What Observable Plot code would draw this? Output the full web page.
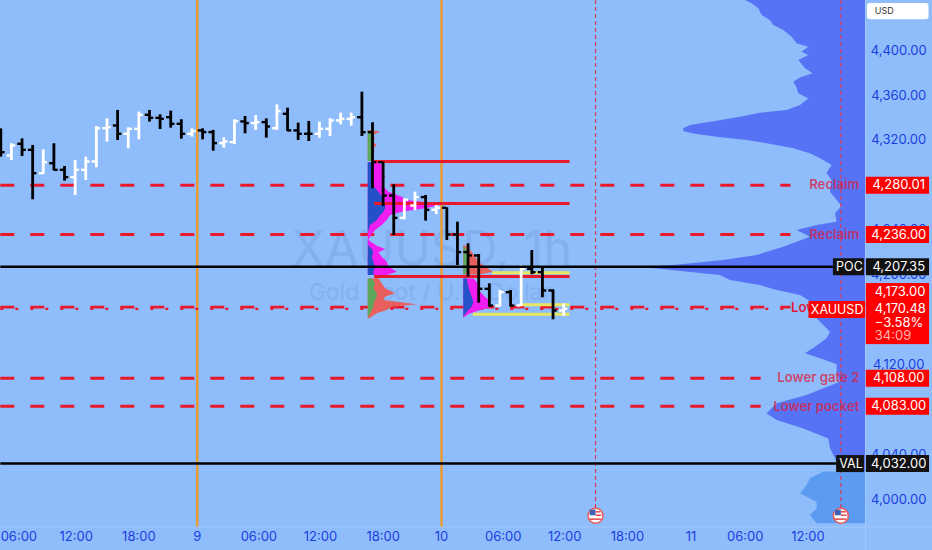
<!DOCTYPE html>
<html><head><meta charset="utf-8">
<script src="https://cdn.jsdelivr.net/npm/d3@7"></script>
<script src="https://cdn.jsdelivr.net/npm/@observablehq/plot@0.6"></script>
<style>html,body{margin:0;padding:0;background:#8fbcfb}svg{display:block}</style>
</head><body><div id="c"></div>
<script>
// OHLC, one entry per hourly bar
const opens=[4321,4306.5,4316.9,4311.5,4290.7,4299.6,4293.7,4287.2,4293.7,4301.1,4330.8,4333.2,4325.8,4330.2,4342.7,4340,4340.6,4334.7,4325.8,4328.8,4327.3,4317.5,4318.4,4336.8,4335.3,4336.2,4330.8,4343.6,4328.8,4325.8,4325.8,4330.2,4337.7,4339.1,4340.6,4327.2,4300.5,4270.8,4250.9,4261.9,4269.4,4258.1,4259.9,4236.1,4220.4,4217.4,4187.7,4172.8,4184.7,4172.8,4205.5,4202.5,4186.2,4168.4];
const highs=[4330.2,4316.9,4321.3,4315.4,4311.5,4316.9,4296.7,4302,4305,4332.3,4339.1,4346.6,4331.1,4345.1,4346.6,4342.7,4346,4338.3,4330.2,4330.2,4328.8,4322.2,4338.3,4341.2,4342.1,4339.1,4351.6,4348.6,4335.3,4336.8,4336.2,4339.1,4344.2,4344.2,4362.9,4335.6,4300.5,4280.3,4267.9,4273.8,4270.8,4261.9,4259.9,4247.1,4227.8,4218.3,4192.1,4186.2,4186.2,4208.5,4221.8,4207,4186.8,4174.3];
const lows=[4305,4302,4305.6,4267,4289.5,4293.1,4283.6,4270.8,4284.2,4295.5,4318.4,4319.8,4312.4,4320.4,4336.2,4329.6,4330.8,4321,4322.8,4320.4,4310.3,4313,4316.3,4325.8,4328.8,4321.9,4328.8,4327.9,4319.8,4318.9,4321.9,4323.4,4333.8,4332.6,4323.4,4276.8,4261,4235.2,4249.2,4257.5,4248,4253.9,4230.7,4208.5,4198.1,4174.9,4171.4,4171.4,4171.4,4171.9,4200.2,4179.7,4160.1,4163];
const closes=[4309.4,4315.4,4311.5,4290.7,4300.5,4293.7,4287.2,4293.7,4301.1,4330.8,4331.7,4325.8,4330.2,4342.7,4340,4339.1,4334.7,4325.8,4328.2,4327.3,4317.5,4318.9,4337.1,4335.3,4336.2,4332.3,4346,4328.8,4325.8,4325.8,4330.2,4337.7,4339.1,4340.6,4327.2,4300.5,4270.8,4250.9,4267,4269.4,4258.1,4259.9,4236.1,4220.4,4217.4,4187.7,4172.8,4184.7,4172.8,4205.5,4202.5,4186.2,4168.4,4169.9];
const upBars=[1,4,7,8,9,10,12,13,18,21,22,24,26,30,31,32,33,38,39,41,47,49,53];

// session profile 1
const p1TopPrice=[4328.7,4327.3,4324.3,4321.3,4318.4,4315.4,4312.4,4309.4,4305,4301.1];
const p1TopInner=[2,10,11,12,12,12,12,12,12,12];
const p1TopOuter=[7,37,15,22,15,27,18,20,12,22];
const p1MidPrice=[4299.9,4297.6,4294.6,4290.1,4287.2,4282.7,4278.3,4273.8,4269.3,4266.4,4262.5,4259,4256,4253,4248.6,4244.1,4239.6,4235.2,4230.7,4225.7,4222.7,4219.7,4215.9,4211.4,4207,4202.5,4199.6];
const p1MidInner=[17,17,12,12,12,12,17,32,42,47,52,52,47,37,27,7,2,0,0,2,12,17,12,17,22,17,17];
const p1MidOuter=[30,42,47,42,52,42,47,62,102,117,225,172,102,67,57,42,22,10,2,27,52,32,42,57,62,87,57];
const p1LowPrice=[4196.6,4192.1,4187.7,4183.2,4180.2,4177.3,4173.4,4171.3,4168.4,4165.4,4161];
const p1LowInner=[12,22,17,27,27,22,17,17,12,7,0];
const p1LowOuter=[32,42,52,82,52,47,147,72,57,27,4];
// session profile 2
const p2TopPrice=[4226.2,4224.8,4220.3,4215.9,4211.4,4206.9,4202.5,4200.1];
const p2TopInner=[0,2,15,15,12,12,10,5];
const p2TopOuter=[2,12,25,35,45,65,90,50];
const p2LowPrice=[4196.5,4193.6,4189.1,4184.7,4180.2,4175.8,4171.3,4168.3,4164.8,4161.8];
const p2LowInner=[10,12,15,20,25,30,25,15,5,0];
const p2LowOuter=[30,40,45,50,65,80,85,50,15,2];

// visible-range profile on the right
const vpPrice=[4444.5,4441.6,4437.1,4431.2,4426.7,4422.3,4417.8,4411.9,4405.9,4403,4398.5,4395.5,4391.1,4383.7,4379.2,4375.6,4371.8,4366.7,4361.4,4356.9,4351,4346.5,4344.2,4340.6,4337,4333.2,4330.2,4327.8,4325.7,4322.8,4319.8,4316.9,4312.4,4308,4303.5,4297.5,4293.1,4290.1,4284.2,4273.8,4266.4,4261,4254.5,4247.1,4244.1,4239.6,4233.7,4224.8,4217.4,4212.9,4208.5,4207,4199.6,4195.1,4190.6,4186.2,4181.7,4177.3,4169.9,4161,4155,4149.1,4143.1,4135.7,4129.8,4125.3,4120,4113.4,4104.5,4098.6,4092.6,4085.2,4076.3,4070.4,4062.9,4054,4045.1,4033.3,4024.4];
const vpVol=[360,340,320,310,285,275,245,220,205,170,190,170,200,180,157,195,215,205,200,170,195,235,315,375,445,525,545,545,515,445,355,295,215,165,135,100,110,115,100,105,85,70,90,85,145,205,165,245,325,425,575,675,435,405,315,265,195,170,155,145,125,105,115,150,180,135,85,85,75,125,175,265,295,265,185,110,105,85,80];
const vpLowPrice=[4024.4,4018.4,4012.5,4005,3997.6,3991.6,3985.7,3978.3];
const vpLowVol=[125,165,175,195,145,145,165,145];

// levels
const dashedLevels=[4280.01,4236,4108,4083];
const dashedEnds=[74.4,74.4,71.6,71.6];
const levelText=["Reclaim","Reclaim","Lower gate 2","Lower pocket"];
const levelPriceText=["4,280.01","4,236.00","4,108.00","4,083.00"];
const lowerGate=4170.5;
const blackLevels=[4207.35,4032];
const blackEnds=[78.4,78.7];
const blackNames=["POC","VAL"];
const blackPriceText=["4,207.35","4,032.00"];
const redSegments=[4301.1,4263.7,4198.7];
const yellowSegments=[4202,4173.5,4165];
const yellowStarts=[46.3,49,44.5];
const dayLines=[18.5,41.5];
const eventLines=[56,79.1];

// axes
const priceTicks=[4400,4360,4320,4240,4200,4120,4040,4000];
const priceTickText=["4,400.00","4,360.00","4,320.00","4,240.00","4,200.00","4,120.00","4,040.00","4,000.00"];
const timeTicks=[1.7,7.1,13,18.5,24.3,30.1,36,41.5,47.3,53.1,59,65,70.1,76];
const timeLabels=["06:00","12:00","18:00","9","06:00","12:00","18:00","10","06:00","12:00","18:00","11","06:00","12:00"];

const base1=34.6, base2=43.6, pane=81.42, k=0.0314, vpK=0.0314;
const font="Inter, Roboto, sans-serif";
const blue="#1a3fe0";
const band=(prices,inner,outer,base,fillIn,fillOut)=>{
  const rows=prices.map((p,i)=>({p,a:base+inner[i]*k,b:base+outer[i]*k}));
  return [
    Plot.areaX(rows,{y:"p",x1:base,x2:"b",fill:fillOut,curve:"linear"}),
    Plot.areaX(rows,{y:"p",x1:base,x2:"a",fill:fillIn,curve:"linear"})
  ];
};
const bars=opens.map((o,i)=>({i,o,h:highs[i],l:lows[i],c:closes[i],col:upBars.includes(i)?"#ffffff":"#000000"}));
const vpRows=vpPrice.map((p,i)=>({p,x:pane-vpVol[i]*vpK}));
const vpLowRows=vpLowPrice.map((p,i)=>({p,x:pane-vpLowVol[i]*vpK}));
const boxX1=81.5, boxX2=87.45;
const flag=()=>[
  Plot.dot(eventLines,{x:d=>d,y:()=>3985.5,r:7.5,fill:"#ffffff",stroke:"#ee5a5a",strokeWidth:1.5}),
  Plot.rect(eventLines,{x1:d=>d-0.5,x2:d=>d+0.05,y1:3990.5,y2:3985.5,fill:"#3f62b8"}),
  Plot.ruleY(eventLines.flatMap(e=>[{e,y:3989,a:0.05,b:0.5},{e,y:3986,a:0.05,b:0.6},{e,y:3982.5,a:-0.55,b:0.55}]),{y:"y",x1:d=>d.e+d.a,x2:d=>d.e+d.b,stroke:"#e04848",strokeWidth:1.5})
];

const chart=Plot.plot({
  width:932,height:550,margin:0,
  style:{background:"#8fbcfb",fontFamily:font},
  x:{domain:[-0.028,87.73],range:[0,932],axis:null},
  y:{domain:[4444.54,3954.56],range:[0,550],axis:null},
  marks:[
    // faint pane borders
    Plot.ruleX([pane],{stroke:"#a3c9fb",strokeWidth:1}),
    Plot.ruleY([3975.5],{stroke:"#a3c9fb",strokeWidth:1}),
    // big profile
    Plot.areaX(vpRows,{y:"p",x1:"x",x2:pane,fill:"#5673f5",curve:"linear"}),
    Plot.areaX(vpLowRows,{y:"p",x1:"x",x2:pane,fill:"#5b9bf2",curve:"linear"}),
    // watermark
    Plot.text(["XAUUSD, 1h"],{x:[40.6],y:[4222],text:d=>d,fontSize:49,fill:"#84b0f0",textAnchor:"middle",fontFamily:font}),
    Plot.text(["Gold Spot / U.S. Dollar"],{x:[40.4],y:[4184],text:d=>d,fontSize:23,fill:"#84b0f0",textAnchor:"middle",fontFamily:font}),
    // day + event lines
    Plot.ruleX(dayLines,{y1:4444.54,y2:3975.5,stroke:"#eb9a2a",strokeWidth:2.4}),
    Plot.ruleX(eventLines,{y1:4444.54,y2:3990,stroke:"#d83a5a",strokeWidth:1.2,strokeDasharray:"4 3"}),
    // dashed levels
    Plot.ruleY(dashedLevels.map((p,i)=>({p,e:dashedEnds[i]})),{y:"p",x1:0,x2:"e",stroke:"#e8192c",strokeWidth:3,strokeDasharray:"14 16"}),
    Plot.ruleY([lowerGate+0.9],{x1:0,x2:74.4,stroke:"#e8192c",strokeWidth:2.6,strokeDasharray:"14 16"}),
    Plot.ruleY([lowerGate-0.7],{x1:0,x2:74.4,stroke:"#e8192c",strokeWidth:2.4,strokeDasharray:"3 12"}),
    // session profiles
    ...band(p1TopPrice,p1TopInner,p1TopOuter,base1,"#5ea85e","#e8605e"),
    ...band(p1MidPrice,p1MidInner,p1MidOuter,base1,"#2450c8","#f01df0"),
    ...band(p1LowPrice,p1LowInner,p1LowOuter,base1,"#5ea85e","#e8605e"),
    ...band(p2TopPrice,p2TopInner,p2TopOuter,base2,"#5ea85e","#e8605e"),
    ...band(p2LowPrice,p2LowInner,p2LowOuter,base2,"#2450c8","#f01df0"),
    // yellow + red profile levels
    Plot.ruleY(yellowSegments.map((p,i)=>({p,s:yellowStarts[i]})),{y:"p",x1:"s",x2:53.6,stroke:"#e8e860",strokeWidth:3}),
    Plot.ruleY(redSegments,{x1:35.2,x2:53.6,stroke:"#e8192c",strokeWidth:3}),
    // ohlc bars
    Plot.ruleX(bars,{x:"i",y1:"l",y2:"h",stroke:"col",strokeWidth:2.8}),
    Plot.ruleY(bars,{y:"o",x1:d=>d.i-0.4,x2:"i",stroke:"col",strokeWidth:2.4}),
    Plot.ruleY(bars,{y:"c",x1:"i",x2:d=>d.i+0.4,stroke:"col",strokeWidth:2.4}),
    // black levels
    Plot.ruleY(blackLevels.map((p,i)=>({p,e:blackEnds[i]})),{y:"p",x1:0,x2:"e",stroke:"#000000",strokeWidth:2.6}),
    // level texts
    Plot.text(levelText,{x:()=>80.85,y:(d,i)=>dashedLevels[i],text:d=>d,textAnchor:"end",fontSize:13.2,fontWeight:600,fill:"#e01a3a",fillOpacity:.75,fontFamily:font}),
    Plot.text(["Lower gate 1"],{x:[74.4],y:[lowerGate],text:d=>d,textAnchor:"start",fontSize:13.2,fontWeight:600,fill:"#e01a3a",fontFamily:font}),
    // price axis text
    Plot.text(priceTicks,{x:()=>84.55,y:d=>d,text:(d,i)=>priceTickText[i],fontSize:13,fill:blue,textAnchor:"middle",fontFamily:font}),
    // time axis text
    Plot.text(timeLabels,{x:(d,i)=>timeTicks[i],y:()=>3967,text:d=>d,fontSize:13,fontWeight:d=>d.length<3?700:400,fill:blue,textAnchor:"middle",fontFamily:font}),
    // price boxes
    Plot.ruleY(dashedLevels,{x1:boxX1,x2:boxX2,stroke:"#ff0000",strokeWidth:17}),
    Plot.ruleY(blackLevels,{x1:boxX1,x2:boxX2,stroke:"#111111",strokeWidth:17}),
    Plot.ruleY(blackLevels.map((p,i)=>({p,e:blackEnds[i]})),{y:"p",x1:"e",x2:pane-0.1,stroke:"#111111",strokeWidth:17}),
    Plot.text(levelPriceText,{x:()=>84.55,y:(d,i)=>dashedLevels[i],text:d=>d,fontSize:13,fill:"#fff",textAnchor:"middle",fontFamily:font}),
    Plot.text(blackPriceText,{x:()=>84.55,y:(d,i)=>blackLevels[i],text:d=>d,fontSize:13,fill:"#fff",textAnchor:"middle",fontFamily:font}),
    Plot.text(blackNames,{x:(d,i)=>(blackEnds[i]+pane)/2,y:(d,i)=>blackLevels[i],text:d=>d,fontSize:12.5,fill:"#fff",textAnchor:"middle",fontFamily:font}),
    // XAUUSD + last price
    Plot.ruleY([4169.2],{x1:76.1,x2:pane,stroke:"#ff0000",strokeWidth:17}),
    Plot.text(["XAUUSD"],{x:[78.75],y:[4169.2],text:d=>d,fontSize:12.5,fill:"#fff",textAnchor:"middle",fontFamily:font}),
    Plot.rect([1],{x1:boxX1,x2:boxX2,y1:4192.4,y2:4138,fill:"#ff0000"}),
    Plot.text(["4,173.00","4,170.48","−3.58%","34:09"],{x:()=>82.3,y:(d,i)=>[4185.3,4170.2,4157.7,4146][i],text:d=>d,textAnchor:"start",fontSize:13,fill:(d,i)=>i===3?"#ffb3b3":"#fff",fontFamily:font}),
    // USD box
    Plot.rect([1],{x1:81.6,x2:87.4,y1:4441.9,y2:4427.5,fill:"#ffffff",rx:3}),
    Plot.text(["USD"],{x:[82.3],y:[4434.7],text:d=>d,textAnchor:"start",fontSize:9,fill:"#333",fontFamily:font}),
    // event flags
    ...flag()
  ]
});
document.getElementById("c").append(chart);
</script></body></html>
